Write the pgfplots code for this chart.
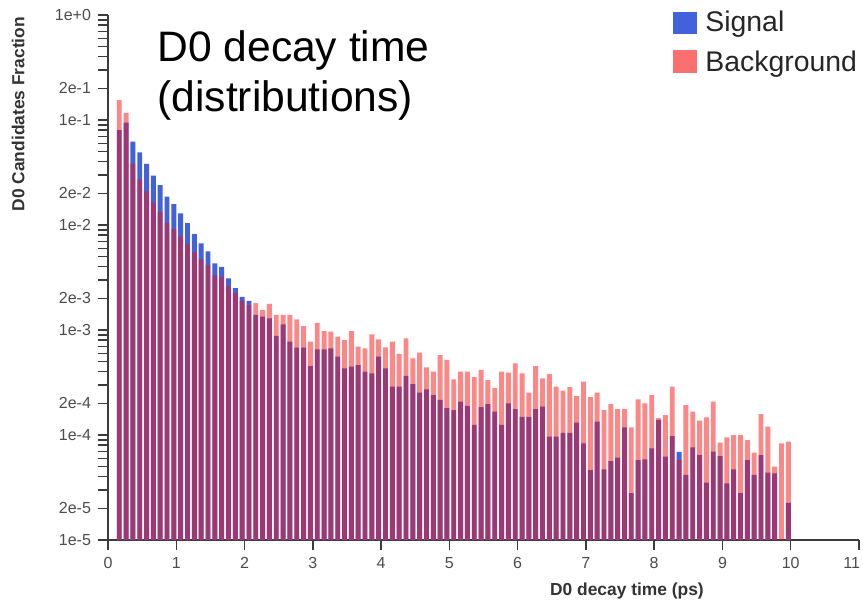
\documentclass[border=0pt]{standalone}
\usepackage{pgfplots}
\pgfplotsset{compat=1.18}
\usepackage{pgfplotstable}
\usepackage{fontspec}
\setmainfont{Liberation Sans}

\definecolor{sigblue}{RGB}{65,98,218}
\definecolor{bkgred}{RGB}{250,15,15}
\definecolor{axisgray}{RGB}{60,60,60}

% bin centre, signal fraction, background fraction (0.1 ps bins)
\pgfplotstableread{
x sig bkg
0.15 0.0803 0.155
0.25 0.0943 0.117
0.35 0.0621 0.0384
0.45 0.0493 0.0272
0.55 0.0383 0.0209
0.65 0.0295 0.0163
0.75 0.0240 0.0133
0.85 0.0186 0.0105
0.95 0.0158 0.00916
1.05 0.0129 0.00780
1.15 0.0104 0.00655
1.25 0.0082 0.00553
1.35 0.0067 0.00471
1.45 0.0056 0.00416
1.55 0.0043 0.00332
1.65 0.0040 0.00318
1.75 0.0031 0.00261
1.85 0.0025 0.00224
1.95 0.00207 0.00190
2.05 0.00189 0.00173
2.15 0.00139 0.00180
2.25 0.00134 0.00155
2.35 0.00129 0.00177
2.45 0.000877 0.00139
2.55 0.00113 0.00139
2.65 0.000774 0.00139
2.75 0.000678 0.00126
2.85 0.000678 0.00109
2.95 0.000454 0.000774
3.05 0.000655 0.00117
3.15 0.000655 0.000978
3.25 0.000670 0.000963
3.35 0.000557 0.000864
3.45 0.000432 0.000803
3.55 0.000447 0.000978
3.65 0.000464 0.000693
3.75 0.000401 0.000670
3.85 0.000387 0.000910
3.95 0.000557 0.000815
4.05 0.000432 0.000684
4.15 0.000289 0.000774
4.25 0.000289 0.000591
4.35 0.000365 0.000834
4.45 0.000306 0.000538
4.55 0.000253 0.000608
4.65 0.000272 0.000441
4.75 0.000240 0.000401
4.85 0.000216 0.000578
4.95 0.000180 0.000518
5.05 0.000173 0.000339
5.15 0.000208 0.000401
5.25 0.000189 0.000401
5.35 0.000125 0.000355
5.45 0.000184 0.000416
5.55 0.000197 0.000334
5.65 0.000167 0.000279
5.75 0.000125 0.000401
5.85 0.000200 0.000392
5.95 0.000176 0.000482
6.05 0.000149 0.000387
6.15 0.000149 0.000253
6.25 0.000176 0.000454
6.35 0.000186 0.000347
6.45 0.0000964 0.000381
6.55 0.0000964 0.000289
6.65 0.000105 0.000264
6.75 0.000105 0.000285
6.85 0.000131 0.000235
6.95 0.0000834 0.000322
7.05 0.0000464 0.000229
7.15 0.000134 0.000253
7.25 0.0000471 0.000173
7.35 0.0000565 0.000197
7.45 0.0000608 0.000176
7.55 0.000118 0.000176
7.65 0.0000279 0.000118
7.75 0.0000578 0.000219
7.85 0.0000587 0.000200
7.95 0.0000747 0.000240
8.05 0.000139 0.000145
8.15 0.0000622 0.000155
8.25 0.0000978 0.000289
8.35 0.0000689 0.0000578
8.45 0.0000416 0.000193
8.55 0.0000764 0.000167
8.65 0.0000645 0.000137
8.75 0.0000352 0.000147
8.85 0.0000693 0.000208
8.95 0.0000631 0.0000845
9.05 0.0000347 0.0000951
9.15 0.0000471 0.000100
9.25 0.0000279 0.000100
9.35 0.0000578 0.0000896
9.45 0.0000416 0.0000678
9.55 0.0000645 0.000158
9.65 0.0000438 0.000120
9.75 0.0000432 0.0000499
9.85 nan 0.0000834
9.95 0.0000226 0.0000863
}\decay

\begin{document}
\begin{tikzpicture}
\begin{axis}[
  scale only axis, width=375.5pt, height=262.5pt,
  xmin=0, xmax=11, ymin=1e-5, ymax=1,
  ymode=log, log origin=infty,
  ybar, bar width=0.072, bar shift=0.5pt,
  axis lines=left, axis line style={-, axisgray, line width=0.8pt},
  tick align=outside, major tick length=5pt, minor tick length=5pt,
  tick style={axisgray, line width=0.7pt},
  xtick={0,...,10},
  extra x ticks={11},
  extra x tick style={xticklabel style={anchor=north east, xshift=4pt}},
  ytick={1e-5,2e-5,1e-4,2e-4,1e-3,2e-3,1e-2,2e-2,1e-1,2e-1,1},
  yticklabels={1e-5,2e-5,1e-4,2e-4,1e-3,2e-3,1e-2,2e-2,1e-1,2e-1,1e+0},
  minor ytick={3e-5,4e-5,5e-5,6e-5,7e-5,8e-5,9e-5,
               3e-4,4e-4,5e-4,6e-4,7e-4,8e-4,9e-4,
               3e-3,4e-3,5e-3,6e-3,7e-3,8e-3,9e-3,
               3e-2,4e-2,5e-2,6e-2,7e-2,8e-2,9e-2,
               3e-1,4e-1,5e-1,6e-1,7e-1,8e-1,9e-1},
  /pgf/number format/assume math mode=true,
  ticklabel style={font=\fontsize{8}{9}\selectfont, text=black!70},
  xlabel={D0 decay time (ps)},
  ylabel={D0 Candidates Fraction},
  xlabel style={at={(rel axis cs:0.691,-0.0971)}, anchor=center,
    font=\bfseries\fontsize{8.7}{10}\selectfont, text=black!80},
  ylabel style={at={(rel axis cs:-0.1198,0.811)}, anchor=center,
    font=\bfseries\fontsize{8.7}{10}\selectfont, text=black!80},
  clip=false,
]
\addplot[fill=sigblue, draw=none] table[x=x, y=sig] {\decay};
\addplot[fill=bkgred, fill opacity=0.5, draw=none] table[x=x, y=bkg] {\decay};
\coordinate (TL) at (rel axis cs:0,1);
\coordinate (BL) at (rel axis cs:0,0);
\coordinate (TR) at (rel axis cs:1,1);
\end{axis}

% title
\node[anchor=base west, inner sep=0, font=\fontsize{21.3}{25}\selectfont]
  at ([shift={(24.5pt,-23.5pt)}]TL) {D0 decay time};
\node[anchor=base west, inner sep=0, font=\fontsize{21.3}{25}\selectfont]
  at ([shift={(24.5pt,-48.5pt)}]TL) {(distributions)};

% legend
\fill[sigblue] ([shift={(282.5pt,1.5pt)}]TL) rectangle ([shift={(294.5pt,-9.5pt)}]TL);
\fill[bkgred!60] ([shift={(282.5pt,-17.5pt)}]TL) rectangle ([shift={(294.5pt,-29pt)}]TL);
\node[anchor=base west, inner sep=0, font=\fontsize{14.2}{16}\selectfont, text=black!85]
  at ([shift={(298.5pt,-8.5pt)}]TL) {Signal};
\node[anchor=base west, inner sep=0, font=\fontsize{14.2}{16}\selectfont, text=black!85]
  at ([shift={(298.5pt,-28.5pt)}]TL) {Background};

\pgfresetboundingbox
\path[use as bounding box] ([shift={(-54pt,-32pt)}]BL) rectangle ([shift={(2pt,7.5pt)}]TR);
\end{tikzpicture}
\end{document}
